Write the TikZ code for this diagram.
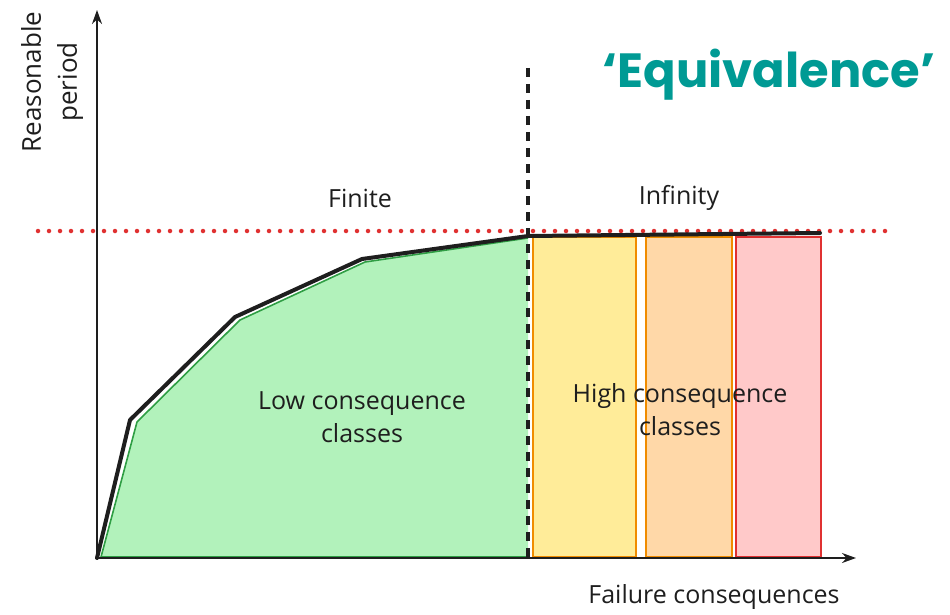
\documentclass[tikz,border=0pt]{standalone}
\usepackage{fontspec}
\setmainfont{Open Sans}
\newfontfamily\titlefont{Poppins}
\usetikzlibrary{arrows.meta}
\definecolor{teal}{HTML}{009A94}
\definecolor{greenfill}{HTML}{B2F2BB}
\definecolor{greenline}{HTML}{2F9E44}
\definecolor{yellowfill}{HTML}{FFEC99}
\definecolor{orangefill}{HTML}{FFD8A8}
\definecolor{orangeline}{HTML}{F08C00}
\definecolor{pinkfill}{HTML}{FFC9C9}
\definecolor{redline}{HTML}{E03131}
\definecolor{ink}{HTML}{1E1E1E}
\tikzset{
  hand/.style={font=\fontsize{25}{33}\selectfont, text=ink, align=center, inner sep=0pt},
  axis/.style={draw=ink, line width=1.8pt, -{Stealth[length=14pt,width=10pt]}},
  bar/.style={line width=2pt}
}
\begin{document}
\begin{tikzpicture}[x=1pt,y=-1pt]
\useasboundingbox (0,0) rectangle (950,615);
% coordinates
\coordinate (o) at (97,558);
\coordinate (ytop) at (97,10);
\coordinate (xend) at (856,558);
\coordinate (p1) at (130,420);
\coordinate (p2) at (235,317);
\coordinate (p3) at (362,259);
\coordinate (p4) at (528,236);
\coordinate (p5) at (820,233);
\coordinate (dtop) at (528,68);
\coordinate (dbot) at (528,558);
\coordinate (rl) at (38,231);
\coordinate (rr) at (892,231);
% green area
\fill[greenfill] (101,557) -- (137,422) -- (240,320) -- (365,262) -- (528,238) -- (528,557) -- cycle;
\draw[greenline, line width=1.6pt, line join=round] (101,557) -- (137,422) -- (240,320) -- (365,262) -- (528,238);
\draw[greenline, line width=1.6pt] (101,557) -- (528,557);
% bars
\draw[bar, draw=orangeline, fill=yellowfill] (533,237) rectangle (636,557);
\draw[bar, draw=orangeline, fill=orangefill] (646,237) rectangle (732,557);
\draw[bar, draw=redline, fill=pinkfill] (736,237) rectangle (821,557);
% red dotted line
\draw[redline, line width=4.5pt, line cap=round, dash pattern=on 0pt off 11pt] (rl) -- (rr);
% dashed divider
\draw[ink, line width=3.5pt, dash pattern=on 9pt off 7pt] (dtop) -- (dbot);
% curve
\draw[ink, line width=4pt, line join=round, line cap=round] (o) -- (p1) -- (p2) -- (p3) -- (p4) -- (p5);
% axes
\draw[axis] (o) -- (ytop);
\draw[axis] (o) -- (xend);
% texts
\node[hand] (finite) at (360,198) {Finite};
\node[hand] (infinity) at (679,198) {Infinity};
\node[hand] (low) at (362,417) {Low consequence\\classes};
\node[hand] (high) at (680,410) {High consequence\\classes};
\node[hand] (xlab) at (714,597) {Failure consequences};
\node[hand, rotate=90, font=\fontsize{26}{36}\selectfont] (ylab) at (52,82) {Reasonable\\period};
\node[font=\titlefont\fontsize{48}{56}\selectfont\bfseries, text=teal, inner sep=0pt] (title) at (769,75) {‘Equivalence’};
\end{tikzpicture}
\end{document}
